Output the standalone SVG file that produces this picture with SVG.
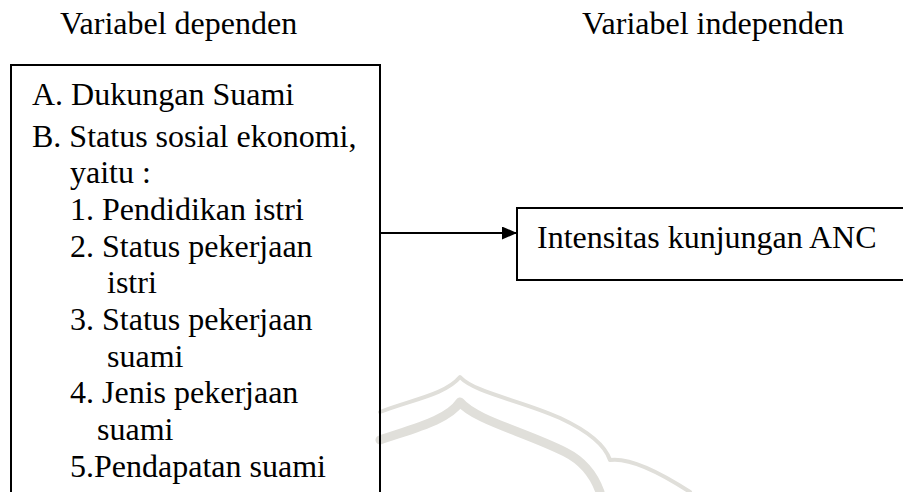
<svg xmlns="http://www.w3.org/2000/svg" width="903" height="492" viewBox="0 0 903 492">
  <style>
    text { font-size: 32px; fill: #000; }
    .box { fill: none; stroke: #000; stroke-width: 2; }
    .wm { fill: none; stroke: #e0dfda; stroke-linecap: round; stroke-linejoin: round; }
  </style>
  <defs>
    <marker id="arrow" markerWidth="15" markerHeight="13" refX="15" refY="6.5" orient="auto" markerUnits="userSpaceOnUse">
      <path d="M0,0 L15,6.5 L0,13 Z" fill="#000"/>
    </marker>
  </defs>
  <rect width="903" height="492" fill="#fff"/>

  <g id="watermark">
    <path class="wm" stroke-width="4" d="M380,412 C410,400 445,395 460,377 C475,393 520,400 560,418 C590,432 605,445 610,460 C625,458 650,466 690,492"/>
    <path class="wm" stroke-width="9" d="M380,440 C415,428 448,420 460,402 C475,420 525,432 565,452 C585,462 595,478 600,492"/>
  </g>

  <g font-family="'Liberation Serif', 'Times New Roman', Times, serif">
    <g id="header-dependen">
      <text x="60" y="34">Variabel dependen</text>
    </g>
    <g id="header-independen">
      <text x="582" y="34">Variabel independen</text>
    </g>

    <g id="node-dependen">
      <rect class="box" x="11" y="65" width="369" height="440"/>
      <text x="32" y="105">A. Dukungan Suami</text>
      <text x="32" y="147">B. Status sosial ekonomi,</text>
      <text x="70" y="183">yaitu :</text>
      <text x="70" y="220">1. Pendidikan istri</text>
      <text x="70" y="257">2. Status pekerjaan</text>
      <text x="107" y="293">istri</text>
      <text x="70" y="330">3. Status pekerjaan</text>
      <text x="107" y="367">suami</text>
      <text x="70" y="403">4. Jenis pekerjaan</text>
      <text x="97" y="440">suami</text>
      <text x="70" y="477">5.Pendapatan suami</text>
    </g>

    <g id="node-independen">
      <rect class="box" x="517" y="208" width="400" height="72"/>
      <text x="537" y="248">Intensitas kunjungan ANC</text>
    </g>
  </g>

  <g id="connectors">
    <line x1="380" y1="233" x2="517" y2="233" stroke="#000" stroke-width="2" marker-end="url(#arrow)"/>
  </g>
</svg>
